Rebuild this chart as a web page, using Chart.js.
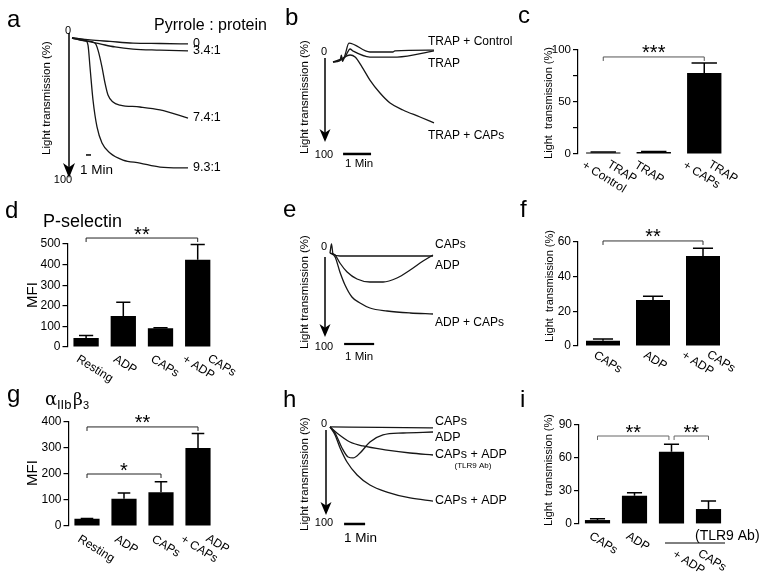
<!DOCTYPE html>
<html lang="en">
<head>
<meta charset="utf-8">
<title>Platelet aggregation figure</title>
<script src="https://cdn.jsdelivr.net/npm/chart.js"></script>
<style>
    body { margin: 0; background: #fff; }
    #fig { position: relative; width: 762px; height: 573px; }
    #fig canvas { position: absolute; left: 0; top: 0; }
</style>
</head>
<body>
<div id="fig">
    <canvas id="pa" width="762" height="573"></canvas>
    <canvas id="pb" width="762" height="573"></canvas>
    <canvas id="pc" width="762" height="573"></canvas>
    <canvas id="pd" width="762" height="573"></canvas>
    <canvas id="pe" width="762" height="573"></canvas>
    <canvas id="pf" width="762" height="573"></canvas>
    <canvas id="pg" width="762" height="573"></canvas>
    <canvas id="ph" width="762" height="573"></canvas>
    <canvas id="pi" width="762" height="573"></canvas>
</div>
<script>
// ---- data (time in min, light transmission in %) ----
// a: pyrrole : protein ratios
var aNames = ['0', '3.4:1', '7.4:1', '9.3:1'];
var aTime0 = [0, 3.6, 7.6, 12.2, 17.6, 23.2];
var aVal0 = [4.7, 6.0, 7.0, 8.1, 8.4, 8.7];
var aTime34 = [0, 2.6, 5.6, 8.6, 12.2, 17.6, 23.2];
var aVal34 = [4.7, 6.7, 8.7, 10.7, 12.1, 12.8, 13.4];
var aTime74 = [0, 3, 4.6, 5.2, 6, 6.6, 7.2, 8.2, 9.6, 13.6, 17.6, 23.2];
var aVal74 = [4.7, 6.7, 8.1, 12.8, 24.2, 34.9, 43.0, 47.7, 49.7, 51.0, 53.0, 58.4];
var aTime93 = [0, 2.6, 3.2, 3.6, 4.2, 5, 6, 7.6, 10.2, 13.6, 17.6, 23.2];
var aVal93 = [4.7, 6.0, 9.4, 24.2, 46.3, 64.4, 75.2, 81.9, 86.6, 88.6, 91.3, 91.9];

// b: TRAP
var bNames = ['TRAP + Control', 'TRAP', 'TRAP + CAPs'];
var bTimeCtl = [0, 0.25, 0.3, 0.34, 0.43, 0.57, 1.32, 2.14, 2.21, 3.61];
var bValCtl = [9.7, 8.5, 3, 9, 2.9, -8.7, 0, 0, -1, -1.9];
var bTimeTrap = [0, 0.29, 0.43, 0.61, 0.71, 1.32, 2.29, 3.61];
var bValTrap = [9.7, 7.8, 4.9, -2.9, -1, 4.9, 4.9, -1];
var bTimeCaps = [0, 0.29, 0.61, 0.79, 1.04, 1.32, 1.68, 2.04, 2.5, 3.11, 3.61];
var bValCaps = [9.7, 6.8, 2.9, 4.9, 14.6, 27.2, 39.8, 49.5, 56.3, 63.1, 68.9];

// e: ADP
var eNames = ['CAPs', 'ADP', 'ADP + CAPs'];
var eTimeCaps = [0, 0.05, 0.1, 0.33, 3.43];
var eValCaps = [6, -3, 7, 9, 9];
var eTimeAdp = [0, 0.17, 0.33, 0.57, 0.9, 1.33, 1.77, 2.23, 2.67, 3.1, 3.43];
var eValAdp = [6, 8, 16, 25, 32, 35, 35, 31, 23, 14, 8];
var eTimeBoth = [0, 0.17, 0.33, 0.5, 0.73, 1, 1.33, 1.9, 2.67, 3.43];
var eValBoth = [6, 10, 25, 38, 50, 56, 61, 64, 66, 67];

// h: TLR9 antibody
var hNames = ['CAPs', 'ADP', 'CAPs + ADP', 'CAPs + ADP'];
var hTimeCaps = [0, 2.38, 4.9];
var hValCaps = [3, 3.5, 4];
var hTimeAdp = [0, 0.24, 0.57, 0.86, 1.1, 1.43, 1.9, 2.52, 3.48, 4.9];
var hValAdp = [3, 9.1, 24.2, 33.3, 34.3, 29.3, 18.2, 11.1, 9.1, 8.1];
var hTimeTlr = [0, 0.33, 0.95, 1.57, 2.71, 3.81, 4.9];
var hValTlr = [3, 9.1, 18.2, 22.2, 26.3, 29.3, 31.3];
var hTimeBoth = [0, 0.24, 0.48, 0.81, 1.29, 1.9, 2.71, 3.81, 4.9];
var hValBoth = [3, 11.1, 24.2, 38.4, 51.5, 61.6, 68.7, 74.7, 77.8];

// bar panels: mean and error
var cCats = [['TRAP', '+ Control'], ['TRAP'], ['TRAP', '+ CAPs']];
var cMean = [1.5, 2, 78];
var cErr = [0.5, 0.5, 9.5];
var cSig = [{from: 0, to: 2, y: 93.3, text: '***'}];

var dCats = [['Resting'], ['ADP'], ['CAPs'], ['CAPs', '+ ADP']];
var dMean = [44, 150, 91, 424];
var dErr = [12, 67, 3, 74];
var dSig = [{from: 0, to: 3, y: 529, text: '**'}];

var fCats = [['CAPs'], ['ADP'], ['CAPs', '+ ADP']];
var fMean = [3.1, 26.5, 51.9];
var fErr = [0.9, 2.2, 4.5];
var fSig = [{from: 0, to: 2, y: 60.6, text: '**'}];

var gCats = [['Resting'], ['ADP'], ['CAPs'], ['ADP', '+ CAPs']];
var gMean = [28, 105, 130, 300];
var gErr = [1, 22, 40, 56];
var gSig = [{from: 0, to: 3, y: 381, text: '**'}, {from: 0, to: 2, y: 200, text: '*'}];

var iCats = [['CAPs'], ['ADP'], [], []];
var iGroup = ['CAPs', '+ ADP'];
var iMean = [3.6, 25.7, 65.7, 13.6];
var iErr = [1.2, 2.8, 6.7, 7.3];
var iSig = [{from: 0, to: 1.93, y: 80, text: '**'}, {from: 2.07, to: 3, y: 80, text: '**'}];

// ---- drawing ----
var FONT = "'Liberation Sans', Arial, Helvetica, sans-serif";
Chart.defaults.font.family = FONT;
Chart.defaults.color = '#000';

function zip(t, v) {
    return t.map(function(x, i) { return {x: x, y: v[i]}; });
}

function text(ctx, s, x, y, size, align, base, angle, family) {
    ctx.save();
    ctx.font = size + 'px ' + (family || FONT);
    ctx.fillStyle = '#000';
    ctx.textAlign = align || 'left';
    ctx.textBaseline = base || 'middle';
    ctx.translate(x, y);
    if (angle) ctx.rotate(angle);
    ctx.fillText(s, 0, 0);
    ctx.restore();
}

function drawTrace(c, series, d) {
    var ctx = c.ctx, xs = c.scales.x, ys = c.scales.y, area = c.chartArea;
    text(ctx, d.letter, d.letterPos[0], d.letterPos[1], 24, 'left', 'alphabetic');
    text(ctx, 'Light transmission (%)', d.titlePos[0], d.titlePos[1], 11.5, 'center', 'middle', -Math.PI / 2);

    // downward arrow
    var ax = area.left - d.arrowDx;
    var y1 = ys.getPixelForValue(d.arrow[0]), y2 = ys.getPixelForValue(d.arrow[1]);
    var hw = d.head[0], hl = d.head[1];
    ctx.save();
    ctx.strokeStyle = '#000';
    ctx.fillStyle = '#000';
    ctx.lineWidth = 1.5;
    ctx.beginPath(); ctx.moveTo(ax, y1); ctx.lineTo(ax, y2 - hl * 0.6); ctx.stroke();
    ctx.beginPath();
    ctx.moveTo(ax, y2);
    ctx.lineTo(ax - hw / 2, y2 - hl);
    ctx.lineTo(ax, y2 - hl * 0.72);
    ctx.lineTo(ax + hw / 2, y2 - hl);
    ctx.closePath(); ctx.fill();
    ctx.restore();
    text(ctx, '0', ax + d.zeroDx, ys.getPixelForValue(0), 11, 'center', 'middle');
    text(ctx, '100', ax + d.hundDx, ys.getPixelForValue(100), 11, 'center', 'middle');

    // 1 min scale bar
    var bx1 = xs.getPixelForValue(d.bar[0]), bx2 = xs.getPixelForValue(d.bar[0] + 1), by = ys.getPixelForValue(d.bar[1]);
    ctx.save();
    ctx.strokeStyle = '#000';
    ctx.lineWidth = d.barW;
    ctx.beginPath(); ctx.moveTo(bx1, by); ctx.lineTo(bx2, by); ctx.stroke();
    ctx.restore();
    text(ctx, '1 Min', bx1 + d.minDx, by + d.minDy, d.minFont, 'left', 'middle');

    // trace end labels
    series.forEach(function(s, i) {
        var yEnd = ys.getPixelForValue(s.v[s.v.length - 1]);
        text(ctx, s.name, area.right + d.labelDx, yEnd + d.labelDy[i], d.labelFont, 'left', 'middle');
    });
    (d.extra || []).forEach(function(e) {
        text(ctx, e.s, e.x, e.y, e.size, e.align || 'left', e.base || 'middle');
    });
}

function traceChart(id, box, xMax, series, d) {
    new Chart(document.getElementById(id), {
        type: 'line',
        data: {
            datasets: series.map(function(s) {
                return {
                    data: zip(s.t, s.v),
                    borderColor: '#161616',
                    borderWidth: 1.3,
                    pointRadius: 0,
                    cubicInterpolationMode: 'monotone',
                    clip: false
                };
            })
        },
        options: {
            responsive: false,
            animation: false,
            events: [],
            layout: { padding: { left: box.left, right: 762 - box.right, top: box.top, bottom: 573 - box.bottom } },
            scales: {
                x: { type: 'linear', display: false, min: 0, max: xMax },
                y: { display: false, min: 0, max: 100, reverse: true }
            },
            plugins: { legend: { display: false }, tooltip: { enabled: false } }
        },
        plugins: [{ id: 'deco', afterDraw: function(c) { drawTrace(c, series, d); } }]
    });
}

var ROT = 32 * Math.PI / 180;

function rotLabel(ctx, lines, x, y) {
    ctx.save();
    ctx.translate(x, y);
    ctx.rotate(ROT);
    ctx.font = '12px ' + FONT;
    ctx.fillStyle = '#000';
    ctx.textAlign = 'left';
    ctx.textBaseline = 'top';
    var n = lines.length;
    lines.forEach(function(s, k) {
        var j = n - 1 - k;
        ctx.fillText(s, j * 21, -j * 14);
    });
    ctx.restore();
}

function drawBars(c, cats, mean, err, sig, d) {
    var ctx = c.ctx, xs = c.scales.x, ys = c.scales.y;
    var meta = c.getDatasetMeta(0);
    text(ctx, d.letter, d.letterPos[0], d.letterPos[1], 24, 'left', 'alphabetic');
    text(ctx, d.yTitle, d.titlePos[0], d.titlePos[1], d.titleFont, 'center', 'middle', -Math.PI / 2);

    ctx.save();
    ctx.strokeStyle = '#000';
    ctx.lineWidth = 1.5;
    mean.forEach(function(m, i) {
        var x = xs.getPixelForValue(i);
        var yb = ys.getPixelForValue(m), yt = ys.getPixelForValue(m + err[i]);
        var half = meta.data[i].width * d.cap / 2;
        ctx.beginPath();
        ctx.moveTo(x, yb); ctx.lineTo(x, yt);
        ctx.moveTo(x - half, yt); ctx.lineTo(x + half, yt);
        ctx.stroke();
    });
    ctx.restore();

    // significance brackets
    sig.forEach(function(b) {
        var x1 = xs.getPixelForValue(b.from), x2 = xs.getPixelForValue(b.to), y = ys.getPixelForValue(b.y);
        ctx.save();
        ctx.strokeStyle = d.sigColor;
        ctx.lineWidth = 1;
        ctx.beginPath();
        ctx.moveTo(x1, y + 4); ctx.lineTo(x1, y); ctx.lineTo(x2, y); ctx.lineTo(x2, y + 4);
        ctx.stroke();
        ctx.font = '20px ' + FONT;
        var m = ctx.measureText(b.text);
        var base = y - 7.5 + (m.actualBoundingBoxAscent - m.actualBoundingBoxDescent) / 2;
        ctx.restore();
        text(ctx, b.text, (x1 + x2) / 2, base, 20, 'center', 'alphabetic');
    });

    // rotated category labels
    var y0 = ys.getPixelForValue(0);
    cats.forEach(function(lines, i) {
        if (!lines.length) return;
        var dx = lines.length > 1 ? d.dx2 : d.dx1;
        rotLabel(ctx, lines, xs.getPixelForValue(i) + dx, y0 + d.dy);
    });
    if (d.after) d.after(c, ctx, xs, ys, y0);
}

function barChart(id, box, yMax, step, every, cats, mean, err, sig, d) {
    new Chart(document.getElementById(id), {
        type: 'bar',
        data: {
            labels: cats.map(function(l) { return l.join(' '); }),
            datasets: [{
                data: mean,
                backgroundColor: '#000',
                borderWidth: 0,
                barPercentage: 0.68,
                categoryPercentage: 1
            }]
        },
        options: {
            responsive: false,
            animation: false,
            events: [],
            layout: { padding: { left: box.left - 40, right: 762 - box.right, top: box.top, bottom: 573 - box.bottom } },
            scales: {
                x: { display: false },
                y: {
                    min: 0, max: yMax,
                    afterFit: function(s) { s.width = 40; },
                    border: { display: true, color: '#000', width: 1.2 },
                    grid: { drawOnChartArea: false, drawTicks: true, tickLength: 5, color: '#000', lineWidth: 1.2 },
                    ticks: {
                        stepSize: step, padding: 2, color: '#000', font: { size: d.tickFont || 12 },
                        callback: function(v) { return v % every === 0 ? v : ''; }
                    }
                }
            },
            plugins: { legend: { display: false }, tooltip: { enabled: false } }
        },
        plugins: [{ id: 'deco', afterDraw: function(c) { drawBars(c, cats, mean, err, sig, d); } }]
    });
}

// ---- panels ----
traceChart('pa', {left: 72, right: 188, top: 31, bottom: 180}, 23.2, [
    {name: aNames[0], t: aTime0, v: aVal0},
    {name: aNames[1], t: aTime34, v: aVal34},
    {name: aNames[2], t: aTime74, v: aVal74},
    {name: aNames[3], t: aTime93, v: aVal93}
], {
    letter: 'a', letterPos: [7, 27], titlePos: [47, 98],
    arrowDx: 3, arrow: [1.3, 98.7], head: [12, 15], zeroDx: -1, hundDx: -6,
    bar: [2.8, 83.2], barW: 1.5, minDx: -6, minDy: 15, minFont: 13.5,
    labelDx: 5, labelDy: [0, 0, 0, 0], labelFont: 12.5,
    extra: [{s: 'Pyrrole : protein', x: 154, y: 30, size: 16, base: 'alphabetic'}]
});

traceChart('pb', {left: 333, right: 434, top: 52, bottom: 155}, 3.61, [
    {name: bNames[0], t: bTimeCtl, v: bValCtl},
    {name: bNames[1], t: bTimeTrap, v: bValTrap},
    {name: bNames[2], t: bTimeCaps, v: bValCaps}
], {
    letter: 'b', letterPos: [285, 25], titlePos: [305, 97],
    arrowDx: 8, arrow: [5.8, 87.4], head: [11, 13], zeroDx: -1, hundDx: -1,
    bar: [0.36, 99], barW: 2.5, minDx: 2, minDy: 10, minFont: 11.5,
    labelDx: -6, labelDy: [-8, 13, 13], labelFont: 12
});

traceChart('pe', {left: 330, right: 433, top: 247, bottom: 347}, 3.43, [
    {name: eNames[0], t: eTimeCaps, v: eValCaps},
    {name: eNames[1], t: eTimeAdp, v: eValAdp},
    {name: eNames[2], t: eTimeBoth, v: eValBoth}
], {
    letter: 'e', letterPos: [283, 217], titlePos: [305, 292],
    arrowDx: 5, arrow: [10, 90], head: [11, 13], zeroDx: -1, hundDx: -1,
    bar: [0.47, 97], barW: 2.2, minDx: 1, minDy: 13, minFont: 11.5,
    labelDx: 2, labelDy: [-11, 11, 9], labelFont: 12
});

traceChart('ph', {left: 330, right: 433, top: 424, bottom: 523}, 4.9, [
    {name: hNames[0], t: hTimeCaps, v: hValCaps},
    {name: hNames[1], t: hTimeAdp, v: hValAdp},
    {name: hNames[2], t: hTimeTlr, v: hValTlr},
    {name: hNames[3], t: hTimeBoth, v: hValBoth}
], {
    letter: 'h', letterPos: [283, 407], titlePos: [305, 474],
    arrowDx: 4, arrow: [6.1, 91.9], head: [11, 13], zeroDx: -2, hundDx: -2,
    bar: [0.67, 101], barW: 2.5, minDx: 0, minDy: 14, minFont: 13.5,
    labelDx: 2, labelDy: [-6, 6, 0, 0], labelFont: 12.5,
    extra: [{s: '(TLR9 Ab)', x: 473, y: 466, size: 8, align: 'center'}]
});

barChart('pc', {left: 578, right: 729.5, top: 50, bottom: 154}, 100, 25, 50, cCats, cMean, cErr, cSig, {
    letter: 'c', letterPos: [518, 23], yTitle: 'Light  transmission (%)', titlePos: [549, 103], titleFont: 11,
    cap: 0.74, sigColor: '#555', dx1: -15, dx2: -17, dy: 5, tickFont: 11.5
});

barChart('pd', {left: 67.5, right: 216.3, top: 244, bottom: 347}, 500, 100, 100, dCats, dMean, dErr, dSig, {
    letter: 'd', letterPos: [5, 218], yTitle: 'MFI', titlePos: [33, 295], titleFont: 15,
    cap: 0.56, sigColor: '#222', dx1: -5.5, dx2: -11, dy: 6,
    after: function(c, ctx) {
        text(ctx, 'P-selectin', 43, 227, 18, 'left', 'alphabetic');
    }
});

barChart('pf', {left: 578, right: 728, top: 242, bottom: 346}, 60, 10, 20, fCats, fMean, fErr, fSig, {
    letter: 'f', letterPos: [520, 217], yTitle: 'Light  transmission (%)', titlePos: [550, 286], titleFont: 11,
    cap: 0.59, sigColor: '#333', dx1: -5, dx2: -17, dy: 3
});

barChart('pg', {left: 68.5, right: 216.5, top: 422, bottom: 526}, 400, 100, 100, gCats, gMean, gErr, gSig, {
    letter: 'g', letterPos: [7, 402], yTitle: 'MFI', titlePos: [33, 473], titleFont: 15,
    cap: 0.5, sigColor: '#222', dx1: -5, dx2: -13, dy: 7,
    after: function(c, ctx) {
        var serif = "'DejaVu Serif', 'Liberation Serif', serif";
        text(ctx, '\u03b1', 45, 405, 18, 'left', 'alphabetic', 0, serif);
        text(ctx, 'IIb', 57, 409, 13, 'left', 'alphabetic');
        text(ctx, '\u03b2', 73, 405, 17, 'left', 'alphabetic', 0, serif);
        text(ctx, '3', 83, 409, 11, 'left', 'alphabetic');
    }
});

barChart('pi', {left: 579, right: 727, top: 425, bottom: 524}, 90, 30, 30, iCats, iMean, iErr, iSig, {
    letter: 'i', letterPos: [520, 407], yTitle: 'Light  transmission (%)', titlePos: [549, 470], titleFont: 11,
    cap: 0.6, sigColor: '#666', dx1: -4, dx2: -13, dy: 6,
    after: function(c, ctx, xs, ys, y0) {
        var x3 = xs.getPixelForValue(2), x4 = xs.getPixelForValue(3);
        ctx.save();
        ctx.strokeStyle = '#000';
        ctx.lineWidth = 1;
        ctx.beginPath(); ctx.moveTo(x3 - 6.5, y0 + 19); ctx.lineTo(x4 + 16.5, y0 + 19); ctx.stroke();
        ctx.restore();
        text(ctx, '(TLR9 Ab)', x4 - 13.5, y0 + 12, 14, 'left', 'middle');
        rotLabel(ctx, iGroup, (x3 + x4) / 2 - 13, y0 + 24);
    }
});
</script>
</body>
</html>
